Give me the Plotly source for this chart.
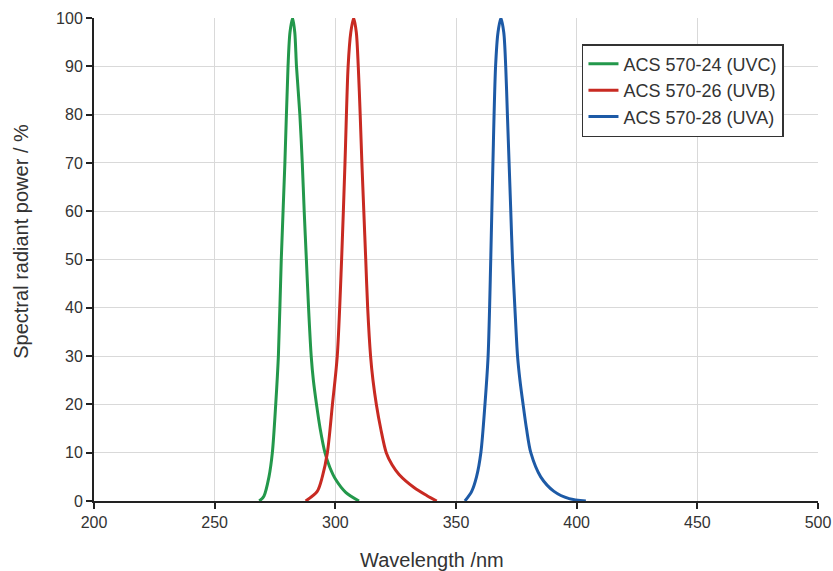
import plotly.graph_objects as go

# ---- data ----
uvc_nm = [268.5, 270.4, 272.5, 273.9, 275.3, 276.4, 277.6, 279.1, 280.4, 281.2, 282.3, 283.2, 283.9,
          285.3, 286.3, 287.1, 288.0, 288.9, 290.0, 290.9, 292.2, 293.7, 295.7, 297.7, 300.1, 304.3, 309.8]
uvc_pct = [0, 1, 5, 10, 20, 30, 50, 70, 90, 97, 100, 97, 90,
           80, 70, 60, 50, 40, 30, 25, 20, 15, 10, 7, 4.5, 1.8, 0]

uvb_nm = [287.7, 292.5, 294.6, 296.7, 298.8, 300.8, 302.6, 304.0, 305.3, 306.4, 307.6, 308.7, 309.5,
          310.3, 311.0, 311.8, 312.6, 313.4, 314.6, 315.6, 317.0, 318.8, 321.1, 323.5, 326.4, 332.6, 338.0, 342.0]
uvb_pct = [0, 2, 5, 10, 20, 30, 50, 70, 90, 97, 100, 97, 90,
           80, 70, 60, 50, 40, 30, 25, 20, 15, 10, 7.5, 5.5, 2.8, 1.1, 0]

uva_nm = [353.7, 356.5, 358.5, 360.3, 362.0, 363.3, 364.4, 365.3, 366.4, 367.4, 368.6, 369.8, 370.6,
          371.3, 372.0, 372.7, 373.4, 374.4, 375.5, 376.5, 377.8, 379.2, 381.0, 385.1, 390.6, 396.9, 403.8]
uva_pct = [0, 2, 5, 10, 20, 30, 50, 70, 90, 97, 100, 97, 90,
           80, 70, 60, 50, 40, 30, 25, 20, 15, 10, 5, 2, 0.5, 0]

series = [
    ("ACS 570-24 (UVC)", uvc_nm, uvc_pct, "#23984b"),
    ("ACS 570-26 (UVB)", uvb_nm, uvb_pct, "#c82a22"),
    ("ACS 570-28 (UVA)", uva_nm, uva_pct, "#1d5aa6"),
]

x_ticks = [200, 250, 300, 350, 400, 450, 500]
y_ticks = [0, 10, 20, 30, 40, 50, 60, 70, 80, 90, 100]

FONT = "Liberation Sans, Arial, sans-serif"

fig = go.Figure()
for name, xs, ys, col in series:
    fig.add_trace(go.Scatter(x=xs, y=ys, name=name, mode="lines",
                             line=dict(color=col, width=3, shape="spline", smoothing=0.8)))

fig.update_layout(
    width=833, height=571,
    margin=dict(l=94, r=15, t=18, b=70, autoexpand=False),
    plot_bgcolor="white", paper_bgcolor="white",
    font=dict(family=FONT, color="#333333", size=16),
    showlegend=True,
    legend=dict(x=0.674, y=0.946, xanchor="left", yanchor="top",
                bgcolor="white", bordercolor="#333333", borderwidth=1.5,
                font=dict(size=18, color="#333333"),
                tracegroupgap=0, itemwidth=30),
    xaxis=dict(range=[200, 500], tickvals=x_ticks, ticktext=[str(v) for v in x_ticks],
               showgrid=True, gridcolor="#d9d9d9", gridwidth=1.2,
               showline=True, linecolor="#222222", linewidth=2,
               ticks="outside", ticklen=6, tickwidth=2, tickcolor="#222222",
               tickfont=dict(size=16, color="#333333"), zeroline=False, automargin=False),
    yaxis=dict(range=[0, 100], tickvals=y_ticks, ticktext=[str(v) for v in y_ticks],
               showgrid=True, gridcolor="#d9d9d9", gridwidth=1.2,
               showline=True, linecolor="#222222", linewidth=2,
               ticks="outside", ticklen=6, tickwidth=2, tickcolor="#222222",
               tickfont=dict(size=16, color="#333333"), zeroline=False, automargin=False),
    annotations=[
        dict(text="Wavelength /nm", xref="paper", yref="paper", x=0.467, y=0,
             xanchor="center", yanchor="middle", yshift=-59, showarrow=False,
             font=dict(size=20, color="#333333", family=FONT)),
        dict(text="Spectral radiant power / %", xref="paper", yref="paper", x=-0.102, y=0.537,
             xanchor="center", yanchor="middle", textangle=-90, showarrow=False,
             font=dict(size=20, color="#333333", family=FONT)),
    ],
)

fig.write_html("out.html", config={"displayModeBar": False},
               post_script="document.body.style.margin='0px';document.body.style.overflow='hidden';")
